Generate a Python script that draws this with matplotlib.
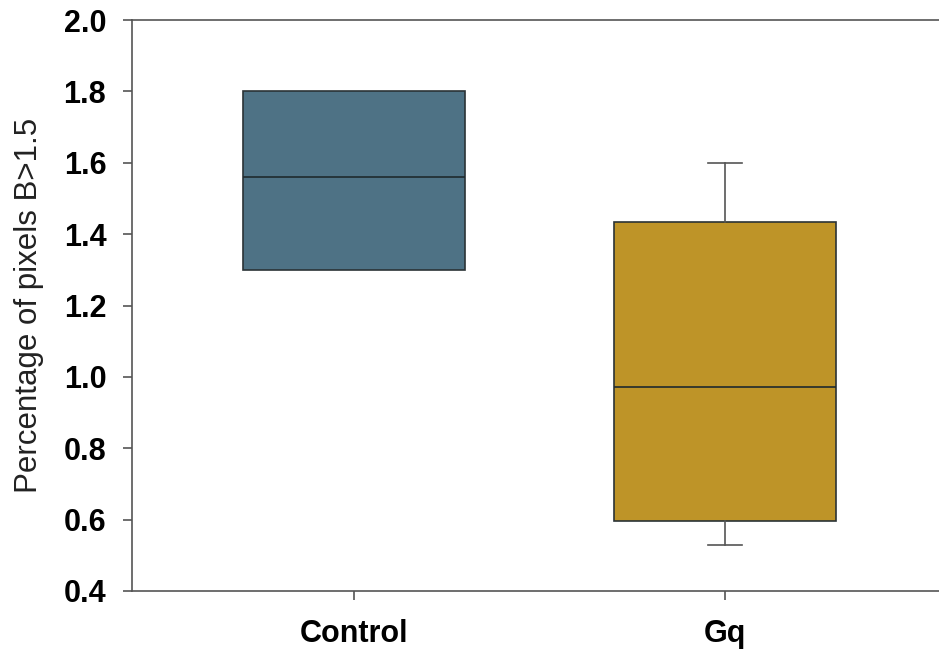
import matplotlib
matplotlib.use("Agg")
import matplotlib.pyplot as plt

# Box statistics per group
groups = ["Control", "Gq"]
whisker_low = [1.30, 0.53]
q1 = [1.30, 0.595]
median = [1.56, 0.972]
q3 = [1.80, 1.434]
whisker_high = [1.80, 1.60]
box_colors = ["#4E7285", "#BE9428"]

yticks = [0.4, 0.6, 0.8, 1.0, 1.2, 1.4, 1.6, 1.8, 2.0]

plt.rcParams["font.family"] = ["Liberation Sans", "DejaVu Sans"]

stats = []
for i, name in enumerate(groups):
    stats.append({
        "label": name,
        "whislo": whisker_low[i],
        "q1": q1[i],
        "med": median[i],
        "q3": q3[i],
        "whishi": whisker_high[i],
        "fliers": [],
    })

fig = plt.figure(figsize=(9.39, 6.60), dpi=100)
ax = fig.add_axes([132 / 939, 1 - 591 / 660, 1.0 - 132 / 939, (591 - 20) / 660])

bp = ax.bxp(stats, positions=[1, 2], widths=0.6, patch_artist=True,
            showfliers=False, capwidths=0.09,
            boxprops=dict(linewidth=1.2, edgecolor="#2b3336"),
            medianprops=dict(color="#1f2a2e", linewidth=1.2),
            whiskerprops=dict(color="#555555", linewidth=1.2),
            capprops=dict(color="#555555", linewidth=1.2))
for patch, c in zip(bp["boxes"], box_colors):
    patch.set_facecolor(c)

# hide caps that sit on the box edge (no whisker beyond the box)
for i in range(len(groups)):
    if whisker_low[i] == q1[i]:
        bp["caps"][2 * i].set_visible(False)
    if whisker_high[i] == q3[i]:
        bp["caps"][2 * i + 1].set_visible(False)

ax.set_xlim(0.402, 2.577)
ax.set_ylim(0.4, 2.0)
ax.set_yticks(yticks)
ax.set_yticklabels([f"{v:.1f}" for v in yticks])
ax.set_xticks([1, 2])
ax.set_xticklabels(groups)

for side in ["left", "bottom", "top"]:
    ax.spines[side].set_color("#555555")
    ax.spines[side].set_linewidth(1.2)
ax.spines["right"].set_visible(False)

ax.tick_params(axis="both", direction="out", length=6.5, width=1.2, color="#555555",
               labelsize=22)
for lab in ax.get_xticklabels() + ax.get_yticklabels():
    lab.set_fontweight("bold")
ax.tick_params(axis="y", pad=12)
ax.tick_params(axis="x", pad=14)

ax.set_ylabel("Percentage of pixels B>1.5", fontsize=22.5, color="#222222", labelpad=14)

fig.savefig("out.png", dpi=100)
